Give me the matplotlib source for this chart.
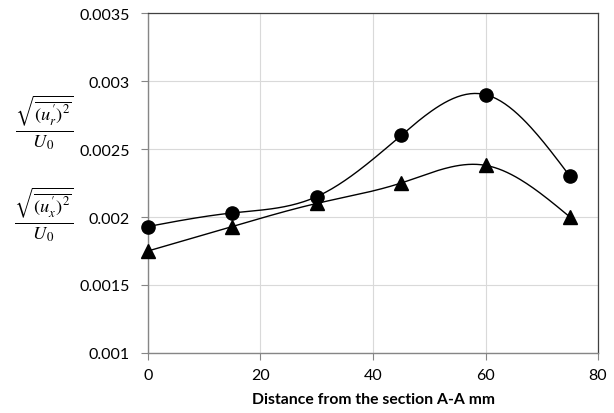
import numpy as np
import matplotlib.pyplot as plt

# data
distance = [0, 15, 30, 45, 60, 75]
u_r = [0.00193, 0.00203, 0.00215, 0.00260, 0.00290, 0.00230]
u_x = [0.00175, 0.00193, 0.00210, 0.00225, 0.00238, 0.00200]
x_ticks = [0, 20, 40, 60, 80]
y_ticks = [0.001, 0.0015, 0.002, 0.0025, 0.003, 0.0035]
y_tick_labels = ['0.001', '0.0015', '0.002', '0.0025', '0.003', '0.0035']

plt.rcParams['mathtext.fontset'] = 'stix'


def natural_spline(xs, ys, n=40):
    # natural cubic spline through the points, for the smoothed line
    x = np.asarray(xs, float)
    y = np.asarray(ys, float)
    k = len(x)
    h = np.diff(x)
    A = np.zeros((k, k))
    b = np.zeros(k)
    A[0, 0] = A[-1, -1] = 1
    for i in range(1, k - 1):
        A[i, i - 1] = h[i - 1]
        A[i, i] = 2 * (h[i - 1] + h[i])
        A[i, i + 1] = h[i]
        b[i] = 6 * ((y[i + 1] - y[i]) / h[i] - (y[i] - y[i - 1]) / h[i - 1])
    M = np.linalg.solve(A, b)
    xx, yy = [], []
    for i in range(k - 1):
        t = np.linspace(x[i], x[i + 1], n)
        a = x[i + 1] - t
        c = t - x[i]
        s = (M[i] * a ** 3 / (6 * h[i]) + M[i + 1] * c ** 3 / (6 * h[i])
             + (y[i] / h[i] - M[i] * h[i] / 6) * a
             + (y[i + 1] / h[i] - M[i + 1] * h[i] / 6) * c)
        xx.extend(t)
        yy.extend(s)
    return np.array(xx), np.array(yy)


fig = plt.figure(figsize=(6.14, 4.14), dpi=100)
ax = fig.add_axes([0.241, 0.145, 0.733, 0.821])

for ys, mk, ms in [(u_r, 'o', 9.5), (u_x, '^', 9.5)]:
    cx, cy = natural_spline(distance, ys)
    ax.plot(cx, cy, color='black', lw=1.0, zorder=3)
    ax.plot(distance, ys, linestyle='none', marker=mk, ms=ms,
            color='black', zorder=4, clip_on=False)

ax.set_xlim(0, 80)
ax.set_ylim(0.001, 0.0035)
ax.set_xticks(x_ticks)
ax.set_yticks(y_ticks)
ax.set_yticklabels(y_tick_labels)
ax.grid(True, color='#d9d9d9', lw=0.8)
ax.set_axisbelow(True)

for s in ['left', 'bottom']:
    ax.spines[s].set_color('#868686')
    ax.spines[s].set_linewidth(1.0)
for s in ['top', 'right']:
    ax.spines[s].set_color('#404040')
    ax.spines[s].set_linewidth(0.9)
ax.tick_params(direction='out', length=5, color='#868686', labelsize=11.5,
               pad=8)
ax.tick_params(axis='x', pad=6)
for lab in ax.get_xticklabels() + ax.get_yticklabels():
    lab.set_family('Lato')

ax.set_xlabel('Distance from the section A-A mm', fontsize=11.3,
              fontweight='bold', family='Lato', labelpad=7)

fig.text(0.072, 0.703, r'$\frac{\sqrt{\overline{(u_r^{\prime})^2}}}{U_{\,0}}$',
         fontsize=19, ha='center', va='center')
fig.text(0.072, 0.481, r'$\frac{\sqrt{\overline{(u_x^{\prime})^2}}}{U_{\,0}}$',
         fontsize=19, ha='center', va='center')

fig.savefig('out.png', dpi=100)
